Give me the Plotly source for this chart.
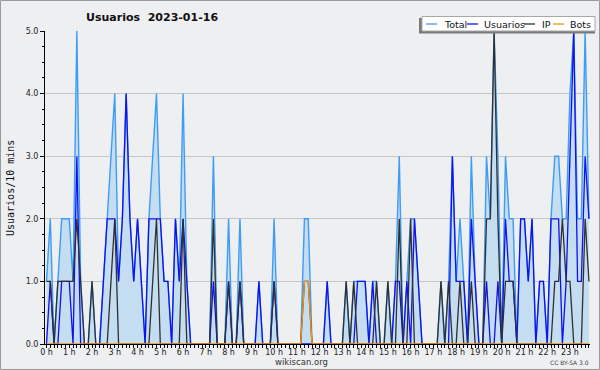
import plotly.graph_objects as go

# ---- data: 10-minute slots, 2023-01-16 ----
slots = [f"{h:02d}:{m:02d}" for h in range(24) for m in range(0, 60, 10)]
hour_labels = [f"{h} h" for h in range(24)]

total = [1,2,0,1,2,2,2,1,5,1,
         0,0,1,0,0,1,2,3,4,1,
         2,4,2,1,2,1,0,2,3,4,
         2,1,1,0,2,1,4,1,0,0,
         0,0,0,0,3,0,0,0,2,0,
         0,2,0,0,0,0,1,0,0,0,
         2,0,0,0,0,0,0,0,2,2,
         0,0,0,0,1,0,0,0,0,1,
         0,1,1,1,1,0,1,1,0,0,
         1,0,1,3,0,1,2,2,1,0,
         0,0,0,0,1,0,1,3,1,2,
         1,0,3,1,0,0,3,2,5,3,
         0,3,2,2,0,2,2,1,2,0,
         1,1,0,2,3,3,2,2,4,5,
         2,2,5,2]

usuarios = [0,1,0,0,1,1,1,0,3,0,
            0,0,0,0,0,1,2,2,2,1,
            2,4,2,1,2,1,0,2,2,2,
            2,1,1,0,2,1,2,1,0,0,
            0,0,0,0,1,0,0,0,1,0,
            0,1,0,0,0,0,1,0,0,0,
            1,0,0,0,0,0,0,0,0,0,
            0,0,0,0,1,0,0,0,0,0,
            0,0,1,1,1,0,1,0,0,0,
            0,0,1,1,0,1,0,2,1,0,
            0,0,0,0,0,0,0,3,1,1,
            1,0,2,1,0,0,1,0,0,1,
            0,2,1,1,0,2,2,1,2,0,
            1,1,0,2,2,2,0,1,3,5,
            1,1,3,2]

ip = [1,1,0,1,1,1,1,1,2,1,
      0,0,1,0,0,0,0,1,2,0,
      0,0,0,0,0,0,0,0,1,2,
      0,0,0,0,0,0,2,0,0,0,
      0,0,0,0,2,0,0,0,1,0,
      0,1,0,0,0,0,0,0,0,0,
      1,0,0,0,0,0,0,0,1,1,
      0,0,0,0,0,0,0,0,0,1,
      0,1,0,0,0,0,0,1,0,0,
      1,0,0,2,0,0,2,0,0,0,
      0,0,0,0,1,0,1,0,0,1,
      0,0,1,0,0,0,2,2,5,2,
      0,1,1,1,0,0,0,0,0,0,
      0,0,0,0,1,1,2,1,1,0,
      0,0,2,1]

bots = [0]*68 + [1, 1] + [0]*74

x_hours = [int(s[:2]) + int(s[3:]) / 60 for s in slots]

# ---- styling ----
C_TOTAL = "#3d9cf5"
C_FILL = "rgba(197,221,240,1)"
C_USU = "#1010f0"
C_IP = "#303030"
C_BOTS = "#f39212"
BG = "#eeeff1"

L, R, T, B = 45, 590, 31, 344
def px(x):
    return (x - L) / (R - L)
def py(y):
    return (B - y) / (B - T)

fig = go.Figure()
fig.add_trace(go.Scatter(x=x_hours, y=total, mode="lines", name="Total",
                         line=dict(color=C_TOTAL, width=1.4),
                         fill="tozeroy", fillcolor=C_FILL))
fig.add_trace(go.Scatter(x=x_hours, y=usuarios, mode="lines", name="Usuarios",
                         line=dict(color=C_USU, width=1.3)))
fig.add_trace(go.Scatter(x=x_hours, y=ip, mode="lines", name="IP",
                         line=dict(color=C_IP, width=1.3)))
fig.add_trace(go.Scatter(x=x_hours, y=bots, mode="lines", name="Bots",
                         line=dict(color=C_BOTS, width=1.4)))

fig.update_layout(
    width=600, height=370,
    margin=dict(l=L, r=600 - R, t=T, b=370 - B),
    paper_bgcolor=BG, plot_bgcolor=BG,
    showlegend=False,
    font=dict(family="DejaVu Sans", size=8, color="#222"),
)
fig.update_xaxes(
    range=[-0.066, 23.88], tickmode="array",
    tickvals=list(range(24)), ticktext=hour_labels,
    ticks="outside", ticklen=3, tickcolor="black", tickwidth=1,
    ticklabelstandoff=-3,
    showline=True, linecolor="black", linewidth=1,
    showgrid=False, zeroline=False,
    minor=dict(tickmode="linear", tick0=0, dtick=1/6, ticks="outside", ticklen=3,
               tickcolor="black", showgrid=False),
    tickfont=dict(size=8, color="#222"),
)
fig.update_yaxes(
    range=[0, 5], dtick=1, tick0=0, tickformat=".1f",
    ticks="outside", ticklen=4, tickcolor="black",
    showline=True, linecolor="black", linewidth=1,
    showgrid=True, gridcolor="#c6c6c6", gridwidth=1, zeroline=False,
    minor=dict(dtick=0.25, ticks="outside", ticklen=2, tickcolor="black", showgrid=False),
    tickfont=dict(size=8, color="#222"),
)

shapes = []
annotations = []

# outer frame
shapes.append(dict(type="rect", xref="paper", yref="paper",
                   x0=px(0.5), x1=px(599.5), y0=py(369.5), y1=py(0.5),
                   line=dict(color="#9a9a9a", width=1), fillcolor="rgba(0,0,0,0)", layer="above"))

# title
annotations.append(dict(text="<b>Usuarios\u00a0\u00a02023-01-16</b>", xref="paper", yref="paper",
                        x=px(84), y=py(17), xanchor="left", yanchor="middle", showarrow=False,
                        font=dict(family="DejaVu Sans", size=11, color="#111")))
# y axis title
annotations.append(dict(text="Usuarios/10 mins", xref="paper", yref="paper",
                        x=px(10), y=py(188), xanchor="center", yanchor="middle", textangle=-90,
                        showarrow=False, font=dict(family="DejaVu Sans Mono", size=10, color="#111")))
# footer
annotations.append(dict(text="wikiscan.org", xref="paper", yref="paper",
                        x=px(301), y=py(362), xanchor="center", yanchor="middle", showarrow=False,
                        font=dict(family="DejaVu Sans", size=8.5, color="#333")))
annotations.append(dict(text="CC BY-SA 3.0", xref="paper", yref="paper",
                        x=px(591), y=py(362), xanchor="right", yanchor="middle", showarrow=False,
                        font=dict(family="DejaVu Sans", size=6, color="#444")))

# legend box (shadow + white box)
shapes.append(dict(type="rect", xref="paper", yref="paper",
                   x0=px(419), x1=px(595), y0=py(33.5), y1=py(18),
                   line=dict(width=0), fillcolor="#7a7a7a", layer="above"))
shapes.append(dict(type="rect", xref="paper", yref="paper",
                   x0=px(422), x1=px(595), y0=py(31), y1=py(16.5),
                   line=dict(color="#a8a8a8", width=1), fillcolor="white", layer="above"))

legend_items = [("Total", C_TOTAL, 426, 442),
                ("Usuarios", C_USU, 467, 482),
                ("IP", C_IP, 524, 540),
                ("Bots", C_BOTS, 553, 568)]
for name, col, lx, tx in legend_items:
    shapes.append(dict(type="line", xref="paper", yref="paper",
                       x0=px(lx), x1=px(lx + 11), y0=py(24), y1=py(24),
                       line=dict(color=col, width=1.3), layer="above"))
    annotations.append(dict(text=name, xref="paper", yref="paper",
                            x=px(tx), y=py(24), xanchor="left", yanchor="middle",
                            showarrow=False,
                            font=dict(family="DejaVu Sans", size=9.5, color="#111")))

fig.update_layout(shapes=shapes, annotations=annotations)
fig.write_html("out.html", config={"displayModeBar": False},
               post_script="document.body.style.margin='0';document.body.style.padding='0';document.body.style.overflow='hidden';")
